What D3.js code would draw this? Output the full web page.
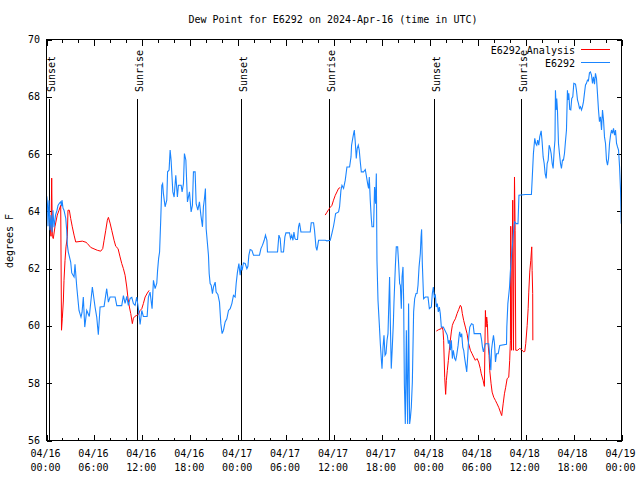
<!DOCTYPE html>
<html><head><meta charset="utf-8">
<script src="https://cdn.jsdelivr.net/npm/d3@7"></script>
<style>
body{margin:0;background:#fff;}
svg{display:block;background:#fff;}
text{font-family:"DejaVu Sans Mono","Liberation Mono",monospace;font-size:10px;fill:#000;}
</style></head><body>
<svg id="chart" width="640" height="480"></svg>
<script>
const chartTitle = "Dew Point for E6292 on 2024-Apr-16 (time in UTC)";
const yAxisLabel = "degrees F";
const startUTC = Date.UTC(2024, 3, 16, 0, 0);
const spanHours = 72;
const xMajorHours = [0, 6, 12, 18, 24, 30, 36, 42, 48, 54, 60, 66, 72];
const xMinorHours = [2, 4, 8, 10, 14, 16, 20, 22, 26, 28, 32, 34, 38, 40, 44, 46, 50, 52, 56, 58, 62, 64, 68, 70];
const yTicks = [56, 58, 60, 62, 64, 66, 68, 70];
const sunLabels = ["Sunset", "Sunrise", "Sunset", "Sunrise", "Sunset", "Sunrise"];
const sunHours = [0.35, 11.38, 24.41, 35.32, 48.48, 59.38];
const seriesNames = ["E6292 Analysis", "E6292"];
const seriesColors = ["#ff0000", "#1a85ff"];

// Analysis series [hours since 04/16 00:00 UTC, deg F]; null = gap
const analysisSeries = [
[0.44,63.62],[0.56,63.13],[0.65,65.16],[0.73,63.13],[0.85,63.05],[1.07,63.48],[1.35,63.87],[1.57,64.04],[1.78,64.21],
[1.88,59.85],[1.98,60.27],[2.11,60.87],[2.19,61.59],[2.32,62.29],[2.44,62.76],[2.61,63.11],[2.69,64.04],[2.86,64.04],
[3.03,63.75],[3.23,63.46],[3.45,63.17],[3.66,62.93],[4.49,62.96],[4.95,62.92],[5.11,62.88],[5.54,62.74],[6.37,62.64],
[6.79,62.61],[7.04,62.70],[7.21,62.99],[7.42,63.34],[7.62,63.69],[7.75,63.79],[7.96,63.59],[8.17,63.34],[8.46,62.99],
[8.67,62.78],[8.96,62.70],[9.21,62.41],[9.42,62.18],[9.63,62.00],[9.84,61.77],[10.05,61.36],[10.21,60.95],[10.38,60.66],
[10.55,60.43],[10.75,60.08],[10.88,60.27],[11.05,60.33],[11.30,60.37],[11.51,60.40],[11.72,60.54],[11.93,60.60],
[12.13,60.78],[12.35,61.01],[12.63,61.15],[12.85,61.24],
[20,null],
[34.90,63.87],[35.12,63.97],[35.32,64.06],[35.53,64.14],[35.74,64.21],[35.94,64.39],[36.16,64.56],[36.37,64.68],
[36.57,64.80],[36.78,64.83],
[42,null],
[48.81,59.82],[49.10,59.87],[49.40,59.90],[49.53,59.96],[49.65,59.85],[49.73,59.50],[49.86,58.21],[49.98,57.61],
[50.07,58.10],[50.19,58.45],[50.32,58.80],[50.44,59.15],[50.57,59.50],[50.69,59.79],[50.82,60.02],[50.98,60.14],
[51.20,60.25],[51.41,60.43],[51.61,60.57],[51.82,60.72],[51.95,60.66],[52.07,60.43],[52.24,60.19],[52.45,59.96],
[52.66,59.73],[52.86,59.38],[53.08,59.15],[53.29,59.03],[53.49,58.91],[53.70,58.80],[53.91,58.86],[54.11,58.74],
[54.32,58.51],[54.44,58.33],[54.67,58.10],[54.83,57.89],[54.96,60.54],[55.04,59.96],[55.12,60.31],[55.21,60.08],
[55.29,59.38],[55.42,58.97],[55.50,58.45],[55.67,57.98],[55.80,57.69],[56.00,57.51],[56.21,57.40],[56.42,57.28],
[56.62,57.16],[56.84,56.99],[57.00,56.87],[57.18,57.28],[57.34,57.63],[57.50,57.86],[57.68,58.16],[57.88,58.21],
[58.00,58.80],[58.09,59.50],[58.13,63.48],[58.22,59.15],[58.38,64.39],[58.47,59.15],[58.60,65.20],[58.68,63.34],
[58.76,59.15],[59.01,59.15],[59.22,59.21],[59.47,59.18],[59.76,59.09],[59.89,59.11],[60.01,59.38],[60.19,60.02],
[60.31,60.60],[60.39,61.18],[60.51,61.88],[60.64,62.29],[60.76,62.76],[60.81,61.94],[60.88,61.13],[60.90,59.50]
];

// Observed series [hours since 04/16 00:00 UTC, deg F]
const observedSeries = [
[0.03,64.53],[0.13,64.21],[0.19,63.48],[0.31,64.39],[0.44,63.34],[0.56,63.87],[0.69,63.27],[0.81,64.04],[0.94,63.45],
[1.13,63.87],[1.32,64.04],[1.44,64.21],[1.63,64.29],[1.78,64.33],[1.88,64.18],[1.94,64.39],[2.07,64.11],[2.19,64.04],
[2.41,63.76],[2.53,63.34],[2.61,62.82],[2.73,62.58],[3.03,62.23],[3.16,61.85],[3.45,61.71],[3.57,62.15],[3.79,61.36],
[4.07,60.54],[4.32,60.31],[4.45,60.47],[4.61,61.01],[4.79,59.96],[5.04,60.54],[5.36,60.33],[5.74,61.36],[6.08,60.66],
[6.29,60.31],[6.49,59.69],[6.71,60.66],[7.21,60.68],[7.54,61.30],[7.75,60.83],[7.96,61.01],[8.59,61.01],[8.80,60.71],
[9.42,60.71],[9.63,61.06],[9.84,60.79],[10.05,61.03],[10.25,60.72],[10.47,60.96],[10.68,61.00],[10.88,60.78],[11.09,60.72],
[11.30,61.01],[11.51,60.60],[11.72,60.05],[11.93,60.54],[12.13,60.33],[12.60,60.33],[12.76,61.01],[12.97,61.18],[13.22,60.60],
[13.39,61.59],[13.60,61.30],[13.81,61.49],[13.91,61.94],[14.04,62.36],[14.16,62.58],[14.31,63.75],[14.44,64.91],[14.54,64.97],
[14.64,64.62],[14.85,64.16],[15.06,64.39],[15.16,65.38],[15.35,65.44],[15.48,66.14],[15.60,65.79],[15.82,64.68],[15.98,64.50],
[16.19,65.26],[16.39,64.50],[16.52,64.91],[16.86,64.91],[16.98,64.68],[17.15,64.97],[17.27,66.02],[17.45,65.79],[17.65,64.33],
[17.90,64.68],[18.11,63.98],[18.27,64.21],[18.40,65.38],[18.61,65.38],[18.74,64.27],[18.95,64.04],[19.15,64.33],[19.33,63.87],
[19.53,63.46],[19.65,64.16],[19.78,64.45],[19.90,64.80],[19.99,63.40],[20.28,62.47],[20.37,61.83],[20.49,61.48],[20.62,61.42],
[20.78,61.13],[20.91,61.36],[21.12,61.53],[21.24,61.18],[21.46,61.10],[21.66,60.83],[21.83,60.08],[21.99,59.73],[22.16,59.85],
[22.37,60.14],[22.58,60.25],[22.79,60.54],[23.00,60.60],[23.21,60.78],[23.41,61.07],[23.62,61.01],[23.75,61.48],[23.91,61.88],
[24.09,62.18],[24.25,61.77],[24.38,62.12],[24.50,61.94],[24.66,62.20],[24.88,62.18],[25.09,62.00],[25.22,62.08],[25.34,62.47],
[25.50,62.67],[25.72,62.64],[25.92,62.47],[26.67,62.47],[26.85,62.70],[27.05,62.82],[27.26,62.99],[27.42,63.17],[27.60,62.99],
[27.67,62.58],[28.93,62.58],[29.10,63.17],[29.26,63.05],[29.39,62.58],[29.68,62.58],[29.85,63.11],[29.98,63.25],[30.43,63.25],
[30.56,63.05],[30.71,63.17],[30.86,62.99],[30.98,63.28],[31.11,63.05],[31.23,63.02],[31.43,63.02],[31.56,63.46],[31.68,63.60],
[31.86,63.28],[33.02,63.28],[33.15,63.60],[33.44,63.60],[33.56,63.34],[33.74,62.76],[33.86,62.64],[34.07,62.99],[34.90,62.99],
[35.12,62.97],[35.53,62.99],[35.74,63.23],[35.94,63.48],[36.07,63.69],[36.20,63.92],[36.57,63.98],[36.70,64.16],[36.87,64.74],
[37.00,64.91],[37.20,64.80],[37.41,65.09],[37.62,65.55],[37.95,65.55],[38.13,65.90],[38.20,66.31],[38.38,66.60],[38.54,66.84],
[38.66,66.43],[38.79,65.85],[38.91,66.20],[39.04,66.31],[39.16,66.14],[39.29,65.73],[39.42,65.38],[39.70,65.38],[39.92,65.46],
[40.04,65.26],[40.21,64.97],[40.33,64.80],[40.42,65.20],[40.54,64.39],[40.67,63.75],[40.76,63.46],[40.96,63.46],[41.08,64.85],
[41.21,64.27],[41.30,65.32],[41.38,62.29],[41.51,60.89],[41.67,60.08],[41.80,59.38],[41.92,58.86],[42.01,58.51],[42.14,59.26],
[42.26,59.67],[42.39,58.97],[42.51,59.03],[42.64,59.50],[42.76,59.73],[42.89,61.01],[42.96,61.71],[43.05,60.19],[43.17,58.51],
[43.30,59.26],[43.43,60.08],[43.51,60.83],[43.68,62.06],[43.80,62.76],[43.97,62.76],[44.09,62.18],[44.22,61.48],[44.31,61.42],
[44.43,60.60],[44.52,61.71],[44.64,62.06],[44.72,60.89],[44.81,57.98],[44.93,56.58],[45.06,59.85],[45.14,57.98],[45.22,56.58],
[45.34,60.78],[45.47,56.58],[45.56,56.77],[45.68,57.16],[45.81,58.04],[45.97,60.49],[46.10,60.95],[46.27,61.13],[46.40,61.13],
[46.52,61.42],[46.65,62.06],[46.81,62.53],[46.90,63.11],[46.97,63.37],[47.06,62.18],[47.22,60.95],[47.44,61.01],[47.77,61.01],
[47.94,60.60],[48.19,60.66],[48.31,61.13],[48.44,61.36],[48.56,61.01],[48.69,61.07],[48.81,60.66],[48.94,60.78],[49.06,60.49],
[49.19,60.66],[49.31,60.43],[49.44,59.96],[49.69,59.96],[50.19,59.67],[50.32,59.38],[50.44,59.50],[50.57,59.15],[50.69,59.50],
[50.82,58.86],[50.94,59.15],[51.11,58.86],[51.24,58.80],[51.36,58.97],[51.54,59.32],[51.67,59.67],[51.74,59.79],[51.87,59.61],
[51.99,59.73],[52.12,59.26],[52.24,59.15],[52.37,58.86],[52.50,58.62],[52.62,58.39],[52.75,58.97],[52.87,59.61],[53.00,59.96],
[53.12,60.02],[53.21,60.08],[53.42,60.05],[53.55,59.73],[54.34,59.73],[54.46,59.55],[54.59,59.26],[54.71,59.09],[54.84,59.26],
[54.96,59.38],[55.38,59.38],[55.51,58.91],[55.64,58.45],[55.72,59.15],[55.85,59.44],[55.97,59.67],[56.10,59.38],[56.22,58.74],
[56.35,59.03],[56.56,59.03],[56.76,59.32],[57.60,59.36],[57.64,59.96],[57.77,60.78],[57.90,61.13],[57.98,61.36],[58.07,61.83],
[58.19,62.35],[58.36,62.88],[58.49,63.34],[58.61,63.63],[58.83,63.57],[59.04,63.57],[59.16,64.56],[59.97,64.59],[60.72,64.59],
[60.81,65.09],[60.97,66.02],[61.14,66.55],[61.26,66.37],[61.39,66.31],[61.51,66.49],[61.64,66.31],[61.76,66.60],[61.94,66.81],
[62.06,66.43],[62.19,65.90],[62.32,65.67],[62.44,65.32],[62.57,65.15],[62.69,65.67],[62.82,65.79],[62.94,66.31],[63.07,66.20],
[63.19,66.02],[63.32,65.67],[63.44,65.50],[63.57,66.14],[63.67,66.49],[63.73,68.23],[63.82,67.54],[63.89,67.94],[63.98,67.54],
[64.11,66.37],[64.23,66.02],[64.36,65.67],[64.48,65.50],[64.61,65.79],[64.73,65.79],[64.86,66.02],[64.98,66.43],[65.11,66.84],
[65.23,68.23],[65.32,67.89],[65.40,68.12],[65.52,67.56],[65.65,67.54],[65.77,67.94],[65.90,68.00],[66.03,68.47],[66.24,68.44],
[66.36,68.23],[66.49,67.89],[66.61,67.77],[66.74,67.60],[66.86,67.65],[66.99,67.54],[67.11,67.65],[67.24,67.83],[67.36,68.12],
[67.49,68.41],[67.61,68.47],[67.74,68.58],[67.86,68.56],[67.99,68.84],[68.11,68.87],[68.24,68.76],[68.37,68.47],[68.49,68.70],
[68.62,68.44],[68.74,68.82],[68.87,68.64],[68.99,68.12],[69.12,67.54],[69.24,67.13],[69.37,67.30],[69.50,66.84],[69.62,67.54],
[69.75,67.19],[69.87,66.60],[70.00,66.37],[70.12,65.79],[70.25,65.61],[70.38,65.85],[70.50,66.37],[70.63,66.66],[70.75,66.84],
[70.88,66.72],[71.00,66.90],[71.13,66.66],[71.25,66.84],[71.38,66.37],[71.50,66.25],[71.63,66.14],[71.76,65.55],[71.88,64.74],
[71.97,63.57]
];

const svg = d3.select("#chart");
const L = 46.5, R = 621.5, T = 39.5, B = 440.5;
const toDate = h => new Date(startUTC + h * 3600e3);
const x = d3.scaleUtc().domain([toDate(0), toDate(spanHours)]).range([L, R]);
const y = d3.scaleLinear().domain([yTicks[0], yTicks[yTicks.length - 1]]).range([B, T]);
const fmtDay = d3.utcFormat("%m/%d"), fmtTime = d3.utcFormat("%H:%M");

function styleAxis(g) {
  g.select(".domain").remove();
  g.selectAll(".tick line").attr("stroke", "#000").attr("shape-rendering", "crispEdges");
  g.selectAll(".tick text").remove();
}
// x axes (bottom & top, major/minor, ticks inward)
svg.append("g").attr("transform", `translate(0,${B})`)
  .call(d3.axisBottom(x).tickValues(xMajorHours.map(toDate)).tickSize(-6)).call(styleAxis);
svg.append("g").attr("transform", `translate(0,${B})`)
  .call(d3.axisBottom(x).tickValues(xMinorHours.map(toDate)).tickSize(-3)).call(styleAxis);
svg.append("g").attr("transform", `translate(0,${T})`)
  .call(d3.axisTop(x).tickValues(xMajorHours.map(toDate)).tickSize(-6)).call(styleAxis);
svg.append("g").attr("transform", `translate(0,${T})`)
  .call(d3.axisTop(x).tickValues(xMinorHours.map(toDate)).tickSize(-3)).call(styleAxis);
// y axes
svg.append("g").attr("transform", `translate(${L},0)`)
  .call(d3.axisLeft(y).tickValues(yTicks).tickSize(-5)).call(styleAxis);
svg.append("g").attr("transform", `translate(${R},0)`)
  .call(d3.axisRight(y).tickValues(yTicks).tickSize(-5)).call(styleAxis);

// x tick labels (two lines)
const xl = svg.append("g").selectAll("text").data(xMajorHours.map(toDate)).join("text")
  .attr("text-anchor", "middle").attr("x", d => x(d) - 1);
xl.append("tspan").attr("y", 457).attr("x", d => x(d) - 1).text(d => fmtDay(d));
xl.append("tspan").attr("y", 471).attr("x", d => x(d) - 1).text(d => fmtTime(d));
// y tick labels
svg.append("g").selectAll("text").data(yTicks).join("text")
  .attr("text-anchor", "end").attr("x", 40).attr("y", d => y(d) + 3.5).text(d => d);

// sunrise / sunset markers
const sun = svg.append("g");
sun.selectAll("line").data(sunHours).join("line")
  .attr("x1", d => Math.round(x(toDate(d))) + 0.5).attr("x2", d => Math.round(x(toDate(d))) + 0.5)
  .attr("y1", 99).attr("y2", B).attr("stroke", "#000").attr("shape-rendering", "crispEdges");
sun.selectAll("text").data(sunHours).join("text")
  .attr("text-anchor", "start")
  .attr("transform", d => `translate(${Math.round(x(toDate(d))) + 6},92) rotate(-90)`)
  .text((d, i) => sunLabels[i]);

// series
const line = d3.line().defined(d => d[1] != null).x(d => x(toDate(d[0]))).y(d => y(d[1]));
svg.append("clipPath").attr("id", "pc").append("rect").attr("x", L).attr("y", T).attr("width", R - L).attr("height", B - T);
svg.append("path").datum(analysisSeries).attr("d", line).attr("fill", "none")
  .attr("stroke", seriesColors[0]).attr("stroke-width", 1).attr("clip-path", "url(#pc)");
svg.append("path").datum(observedSeries).attr("d", line).attr("fill", "none")
  .attr("stroke", seriesColors[1]).attr("stroke-width", 1.1).attr("clip-path", "url(#pc)");

// border
svg.append("rect").attr("x", L).attr("y", T).attr("width", R - L).attr("height", B - T)
  .attr("fill", "none").attr("stroke", "#000").attr("shape-rendering", "crispEdges");

// legend
const lg = svg.append("g");
seriesNames.forEach((n, i) => {
  const ly = 49.5 + i * 13;
  lg.append("text").attr("x", 575).attr("y", ly + 4).attr("text-anchor", "end").text(n);
  lg.append("line").attr("x1", 581).attr("x2", 610).attr("y1", ly).attr("y2", ly)
    .attr("stroke", seriesColors[i]).attr("stroke-width", 1);
});

// title and axis label
svg.append("text").attr("x", 333).attr("y", 23).attr("text-anchor", "middle").text(chartTitle);
svg.append("text").attr("text-anchor", "middle").attr("transform", "translate(13,241) rotate(-90)").text(yAxisLabel);
</script>
</body></html>
